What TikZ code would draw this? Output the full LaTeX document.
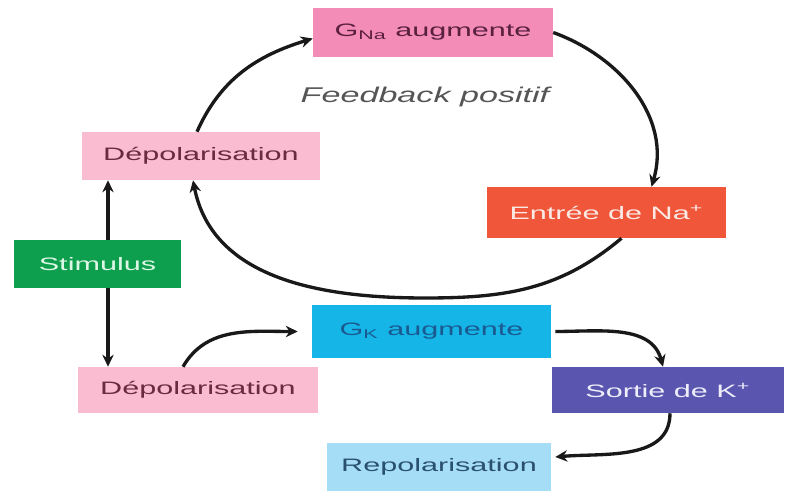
\documentclass[tikz,border=0pt]{standalone}
\usepackage{fontspec}
\setmainfont{Liberation Sans}
\usetikzlibrary{arrows.meta}
\newlength\px \setlength\px{0.75pt}
\newcommand\wtxt[1]{\scalebox{1.7}[1]{#1}}
\definecolor{cgna}{HTML}{F48CB8}
\definecolor{tgna}{HTML}{5A2040}
\definecolor{cdep}{HTML}{F9BCD0}
\definecolor{tdep}{HTML}{6A2A40}
\definecolor{cent}{HTML}{F0563A}
\definecolor{tent}{HTML}{FBEAE4}
\definecolor{cstim}{HTML}{0E9F4E}
\definecolor{tstim}{HTML}{DDF7E6}
\definecolor{cgk}{HTML}{15B5E8}
\definecolor{tgk}{HTML}{1A5A90}
\definecolor{csor}{HTML}{5A56B0}
\definecolor{tsor}{HTML}{EEEEFA}
\definecolor{crep}{HTML}{A6DDF6}
\definecolor{trep}{HTML}{2A5070}
\definecolor{tfb}{HTML}{555555}
\begin{document}
\begin{tikzpicture}[x=0.75pt,y=0.75pt,
  box/.style={rectangle, inner sep=0pt, font=\fontsize{13.5}{16}\selectfont},
  arr/.style={line width=2.5pt, draw=black!90, -{Stealth[length=9pt,width=8.5pt]}},
  darr/.style={line width=2.5pt, draw=black!90, -{Stealth[length=9pt,width=8.5pt]}}]
\useasboundingbox (0,0) rectangle (785,493);
\node[box, fill=cgna, text=tgna, minimum width=240\px, minimum height=49\px] (gna) at (433,460.5) {\wtxt{G\textsubscript{Na} augmente}};
\node[box, fill=cdep, text=tdep, minimum width=238\px, minimum height=48\px] (dep1) at (201,337) {\wtxt{Dépolarisation}};
\node[box, fill=cent, text=tent, minimum width=239\px, minimum height=51\px] (entree) at (606.5,280.5) {\wtxt{Entrée de Na\textsuperscript{+}}};
\node[box, fill=cstim, text=tstim, minimum width=167\px, minimum height=48\px] (stim) at (97.5,229) {\wtxt{Stimulus}};
\node[box, fill=cgk, text=tgk, minimum width=239\px, minimum height=53\px] (gk) at (431.5,161.5) {\wtxt{G\textsubscript{K} augmente}};
\node[box, fill=cdep, text=tdep, minimum width=240\px, minimum height=46\px] (dep2) at (198,103) {\wtxt{Dépolarisation}};
\node[box, fill=csor, text=tsor, minimum width=232\px, minimum height=46\px] (sortie) at (668,103) {\wtxt{Sortie de K\textsuperscript{+}}};
\node[box, fill=crep, text=trep, minimum width=224\px, minimum height=48\px] (repol) at (439,26) {\wtxt{Repolarisation}};
\node[text=tfb, font=\fontsize{16}{19}\selectfont\itshape] (fb) at (425,396) {\scalebox{1.6}[1]{Feedback positif}};
\coordinate (bot) at (425,195);
\coordinate (vx) at (108,0);
% positive feedback loop
\draw[arr] ([xshift=-4\px]dep1.north) to[out=66,in=197] ([yshift=-6\px]gna.west);
\draw[arr] (gna.east) to[out=-20,in=73.5] ([xshift=45\px]entree.north);
\draw[arr] ([xshift=15\px]entree.south) to[out=220,in=0] (bot) to[out=180,in=-79] ([xshift=-8\px]dep1.south);
% stimulus
\draw[darr] (stim.north -| vx) -- (dep1.south -| vx);
\draw[darr] (stim.south -| vx) -- (dep2.north -| vx);
% lower chain
\draw[arr] ([xshift=-15\px]dep2.north) to[out=60,in=180] ([xshift=-14\px]gk.west);
\draw[arr] ([xshift=4\px]gk.east) to[out=0,in=105] ([xshift=-5\px]sortie.north);
\draw[arr] ([xshift=2\px]sortie.south) to[out=-90,in=5] ([xshift=4\px,yshift=10\px]repol.east);
\end{tikzpicture}
\end{document}
